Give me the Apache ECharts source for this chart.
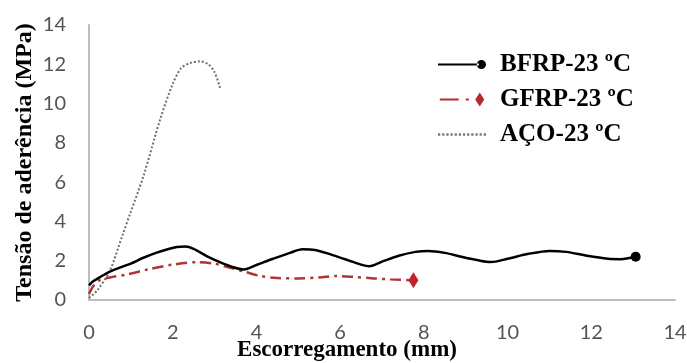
<!DOCTYPE html>
<html>
<head>
<meta charset="utf-8">
<style>
  html, body { margin: 0; padding: 0; background: #fff; }
  #chart { width: 687px; height: 363px; }
</style>
<script src="https://cdn.jsdelivr.net/npm/echarts@6.0.0/dist/echarts.min.js"></script>
</head>
<body>
<div id="chart"></div>
<script>
// Bond stress vs. slip curves at 23 ºC
const seriesNames = ['BFRP-23 ºC', 'GFRP-23 ºC', 'AÇO-23 ºC'];

// Slip (mm) and bond stress (MPa) for each bar type
const bfrpSlip   = [0, 0.1, 0.25, 0.5, 0.8, 1.0, 1.3, 1.6, 1.9, 2.1, 2.3, 2.5, 2.8, 3.1, 3.4, 3.7, 4.0, 4.4, 4.8, 5.1, 5.4, 5.8, 6.2, 6.5, 6.7, 7.0, 7.4, 7.8, 8.1, 8.5, 8.9, 9.3, 9.6, 10.0, 10.5, 11.0, 11.4, 11.9, 12.4, 12.7, 13.06];
const bfrpStress = [0.75, 0.95, 1.15, 1.45, 1.7, 1.85, 2.15, 2.4, 2.6, 2.7, 2.72, 2.6, 2.25, 1.95, 1.7, 1.55, 1.78, 2.1, 2.4, 2.58, 2.55, 2.3, 2.02, 1.8, 1.72, 1.95, 2.25, 2.45, 2.5, 2.4, 2.2, 2.02, 1.93, 2.1, 2.35, 2.5, 2.45, 2.25, 2.1, 2.08, 2.2];

const gfrpSlip   = [0, 0.1, 0.25, 0.5, 0.9, 1.4, 2.0, 2.6, 3.0, 3.3, 3.7, 4.1, 4.5, 5.0, 5.5, 5.9, 6.3, 6.8, 7.2, 7.75];
const gfrpStress = [0.3, 0.7, 1.0, 1.15, 1.3, 1.55, 1.8, 1.93, 1.85, 1.68, 1.45, 1.22, 1.12, 1.1, 1.15, 1.22, 1.18, 1.1, 1.05, 1.0];

const acoSlip   = [0, 0.2, 0.5, 0.8, 1.0, 1.3, 1.7, 2.0, 2.2, 2.4, 2.65, 2.85, 3.0, 3.13];
const acoStress = [0.1, 0.5, 1.5, 3.3, 4.5, 6.3, 9.2, 11.0, 11.8, 12.05, 12.15, 12.0, 11.6, 10.8];

// Axis ticks
const axisMin = 0, axisMax = 14, axisStep = 2;

// Pair up x/y arrays; optionally put an end marker on the last point
function toPoints(xs, ys, endSymbol, endSize, endColor) {
  return xs.map((x, i) => {
    if (endSymbol && i === xs.length - 1) {
      return { value: [x, ys[i]], symbol: endSymbol, symbolSize: endSize, itemStyle: { color: endColor } };
    }
    return [x, ys[i]];
  });
}

// Legend icons: line sample with the end marker on the right
const iconBfrp = 'path://M0,6H40V8H0Z M38,7a4.5,4.5 0 1,0 9,0a4.5,4.5 0 1,0 -9,0Z';
const iconGfrp = 'path://M0,6H19V8H0Z M26,6H29V8H26Z M35.5,7L40,0L44.5,7L40,14Z';
let dots = '';
for (let i = 0; i < 12; i++) { const x = i * 3.6; dots += 'M' + x + ',6H' + (x + 2) + 'V8H' + x + 'Z '; }
const iconAco = 'path://' + dots.trim();

const serif = '"Liberation Serif", "Times New Roman", serif';
const sans = 'Lato, "Open Sans", sans-serif';

const chart = echarts.init(document.getElementById('chart'));
chart.setOption({
  animation: false,
  backgroundColor: '#ffffff',
  grid: { left: 89, right: 12, top: 25, bottom: 63, containLabel: false, outerBoundsMode: 'none' },
  legend: {
    orient: 'vertical',
    left: 433,
    top: 47,
    itemWidth: 48,
    itemHeight: 14,
    itemGap: 10,
    itemStyle: { borderWidth: 0 },
    textStyle: { fontFamily: serif, fontWeight: 'bold', fontSize: 25, color: '#000', padding: [0, 0, 0, 9] },
    data: [
      { name: seriesNames[0], icon: iconBfrp },
      { name: seriesNames[1], icon: iconGfrp },
      { name: seriesNames[2], icon: iconAco }
    ]
  },
  xAxis: {
    type: 'value',
    min: axisMin, max: axisMax, interval: axisStep,
    name: 'Escorregamento (mm)',
    nameLocation: 'middle',
    nameGap: 39,
    nameMoveOverlap: false,
    nameTextStyle: { fontFamily: serif, fontWeight: 'bold', fontSize: 23, color: '#000', padding: [0, 70, 0, 0] },
    axisLine: { show: true, lineStyle: { color: '#bdbdbd', width: 2 } },
    axisTick: { show: false },
    splitLine: { show: false },
    axisLabel: { fontFamily: sans, fontSize: 20, color: '#545454', margin: 23 }
  },
  yAxis: {
    type: 'value',
    min: axisMin, max: axisMax, interval: axisStep,
    name: 'Tensão de aderência (MPa)',
    nameLocation: 'middle',
    nameGap: 52,
    nameMoveOverlap: false,
    nameTextStyle: { fontFamily: serif, fontWeight: 'bold', fontSize: 24, color: '#000' },
    axisLine: { show: true, lineStyle: { color: '#bdbdbd', width: 2 } },
    axisTick: { show: false },
    splitLine: { show: false },
    axisLabel: { fontFamily: sans, fontSize: 20, color: '#545454', margin: 23 }
  },
  series: [
    {
      name: seriesNames[0],
      type: 'line',
      smooth: 0.3,
      symbol: 'none',
      color: '#000000',
      lineStyle: { color: '#000000', width: 2.5 },
      data: toPoints(bfrpSlip, bfrpStress, 'circle', 10, '#000000'),
      z: 3
    },
    {
      name: seriesNames[1],
      type: 'line',
      smooth: 0.3,
      symbol: 'none',
      color: '#b8282e',
      lineStyle: { color: '#b03535', width: 2.5, type: [11, 5, 3, 5] },
      data: toPoints(gfrpSlip, gfrpStress, 'diamond', [10, 16], '#c0222a'),
      z: 2
    },
    {
      name: seriesNames[2],
      type: 'line',
      smooth: 0.3,
      symbol: 'none',
      color: '#7a7a7a',
      lineStyle: { color: '#6f6f6f', width: 2, type: [2, 2] },
      data: toPoints(acoSlip, acoStress),
      z: 1
    }
  ]
});
</script>
</body>
</html>
